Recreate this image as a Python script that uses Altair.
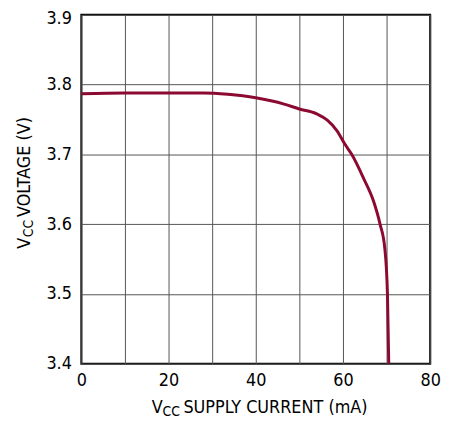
import altair as alt
import pandas as pd

current = [0, 10, 20, 28, 33.6, 40, 46.5, 50, 54, 56.4, 58.6, 60.5, 62, 64.7, 67, 68.5, 69.6, 70.2, 70.5]
voltage = [3.787, 3.788, 3.788, 3.788, 3.786, 3.781, 3.772, 3.765, 3.758, 3.749, 3.734, 3.714, 3.700, 3.666, 3.633, 3.600, 3.565, 3.500, 3.400]
x_ticks = [0, 10, 20, 30, 40, 50, 60, 70, 80]
y_ticks = [3.4, 3.5, 3.6, 3.7, 3.8, 3.9]

FONT = "'DejaVu Sans Condensed', 'Arial Narrow', Roboto, sans-serif"
df = pd.DataFrame({"i": range(len(current)), "current": current, "voltage": voltage})

line = alt.Chart(df).mark_line(color="#8c0a32", strokeWidth=3, interpolate="monotone").encode(
    x=alt.X("current:Q", scale=alt.Scale(domain=[0, 80], nice=False),
            axis=alt.Axis(values=x_ticks, title=None, labelFlush=False,
                          labelExpr="datum.value % 20 == 0 ? datum.label : ''")),
    y=alt.Y("voltage:Q", scale=alt.Scale(domain=[3.4, 3.9], nice=False, zero=False),
            axis=alt.Axis(values=y_ticks, format=".1f", title=None, labelFlush=False,
                          labelOffset={"condition": {"test": "datum.value > 3.85", "value": 4}, "value": 0})),
    order="i:Q",
)

def txt(s, x, y, size, angle=0):
    return alt.Chart(pd.DataFrame({"t": [s]})).mark_text(
        font=FONT, fontSize=size, color="black", align="left", baseline="alphabetic", angle=angle
    ).encode(text="t:N", x=alt.value(x), y=alt.value(y))

titles = [
    txt("V", 71, 401.5, 18),
    txt("CC", 82, 405, 14),
    txt("SUPPLY CURRENT (mA)", 103, 401.5, 18),
    txt("V", -52, 236, 18, 270),
    txt("CC", -48.5, 224.5, 14, 270),
    txt("VOLTAGE (V)", -52, 204, 18, 270),
]

chart = alt.layer(line, *titles).properties(
    width=352, height=352,
    autosize=alt.AutoSizeParams(type="none"),
    padding={"left": 74, "top": 5, "right": 20, "bottom": 56},
).configure_view(stroke="black", strokeWidth=2).configure_axis(
    grid=True, gridColor="#555555", gridWidth=1, domain=False, ticks=False,
    labelFont=FONT, labelFontSize=18, labelColor="black",
).configure_axisX(labelPadding=8).configure_axisY(labelPadding=10)

chart.save("out.html", embed_options={"renderer": "svg", "actions": False})
